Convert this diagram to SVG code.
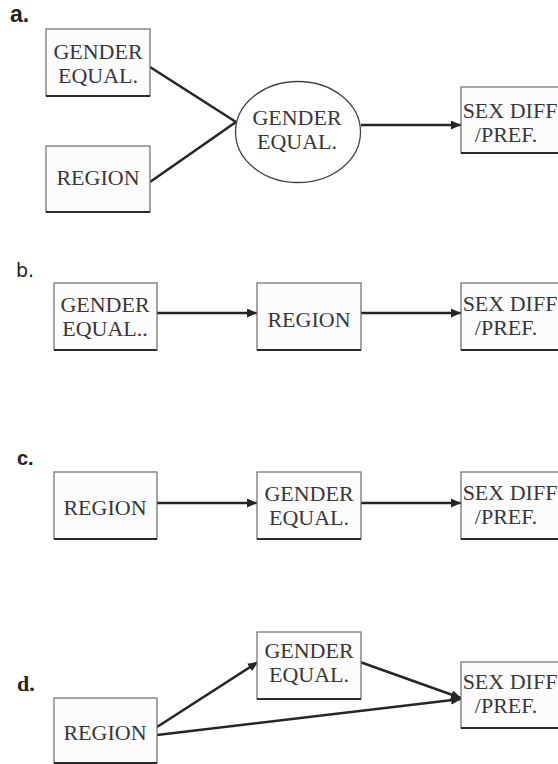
<svg xmlns="http://www.w3.org/2000/svg" width="558" height="764" viewBox="0 0 558 764">
<style>
.box{fill:#fcfcfc;stroke:#6a6a6a;stroke-width:1.2}
.shadow{stroke:#2a2a2a;stroke-width:2;fill:none}
.t{font-family:'Liberation Serif','DejaVu Serif',serif;font-size:22px;fill:#383838;text-anchor:middle}
.conn{stroke:#262626;stroke-width:2.6;fill:none}
.arr{marker-end:url(#ah)}
</style>
<defs>
<marker id="ah" markerUnits="userSpaceOnUse" markerWidth="10" markerHeight="9" refX="10" refY="4.5" orient="auto">
<path d="M0,0 L10,4.5 L0,9 z" fill="#262626"/>
</marker>
</defs>
<rect width="558" height="764" fill="#fff"/>

<text x="10" y="22" font-family="'Liberation Sans','DejaVu Sans',sans-serif" font-weight="bold" font-size="23" fill="#222">a.</text>
<text x="16" y="277" font-family="'DejaVu Sans',sans-serif" font-size="19" fill="#222">b.</text>
<text x="17" y="465" font-family="'Liberation Sans','DejaVu Sans',sans-serif" font-weight="bold" font-size="20" fill="#222">c.</text>
<text x="17" y="691" font-family="'Liberation Serif','DejaVu Serif',serif" font-weight="bold" font-size="22" fill="#222">d.</text>

<g id="connectors">
<line class="conn" x1="150" y1="67" x2="236" y2="122"/>
<line class="conn" x1="150" y1="182" x2="236" y2="122"/>
<line class="conn arr" x1="361" y1="125" x2="461" y2="125"/>
<line class="conn arr" x1="157" y1="313" x2="257" y2="313"/>
<line class="conn arr" x1="361" y1="313" x2="461" y2="313"/>
<line class="conn arr" x1="157" y1="503" x2="257" y2="503"/>
<line class="conn arr" x1="361" y1="503" x2="461" y2="503"/>
<line class="conn arr" x1="157" y1="727" x2="258" y2="662"/>
<line class="conn arr" x1="360" y1="662" x2="461" y2="698"/>
<line class="conn arr" x1="157" y1="735" x2="461" y2="699"/>
</g>

<g id="a-gender">
<rect class="box" x="46" y="29" width="104" height="67"/><line class="shadow" x1="46" y1="96" x2="150" y2="96"/>
<text class="t" x="98" y="59">GENDER</text><text class="t" x="98" y="83">EQUAL.</text>
</g>
<g id="a-region">
<rect class="box" x="46" y="146" width="104" height="66"/><line class="shadow" x1="46" y1="212" x2="150" y2="212"/>
<text class="t" x="98" y="185">REGION</text>
</g>
<g id="a-latent">
<ellipse cx="298" cy="132" rx="62.5" ry="50.5" fill="#fff" stroke="#444" stroke-width="1.3"/>
<text class="t" x="297" y="125" fill="#555">GENDER</text><text class="t" x="297" y="149" fill="#555">EQUAL.</text>
</g>
<g id="a-sex">
<rect class="box" x="461" y="87" width="104" height="66"/><line class="shadow" x1="461" y1="153" x2="565" y2="153"/>
<text class="t" x="510" y="118">SEX DIFF</text><text class="t" x="506" y="142">/PREF.</text>
</g>

<g id="b-gender">
<rect class="box" x="54" y="283" width="103" height="67"/><line class="shadow" x1="54" y1="350" x2="157" y2="350"/>
<text class="t" x="105" y="312">GENDER</text><text class="t" x="105" y="336">EQUAL..</text>
</g>
<g id="b-region">
<rect class="box" x="257" y="283" width="104" height="67"/><line class="shadow" x1="257" y1="350" x2="361" y2="350"/>
<text class="t" x="309" y="327">REGION</text>
</g>
<g id="b-sex">
<rect class="box" x="461" y="283" width="104" height="67"/><line class="shadow" x1="461" y1="350" x2="565" y2="350"/>
<text class="t" x="510" y="311">SEX DIFF</text><text class="t" x="506" y="335">/PREF.</text>
</g>

<g id="c-region">
<rect class="box" x="54" y="472" width="103" height="67"/><line class="shadow" x1="54" y1="539" x2="157" y2="539"/>
<text class="t" x="105" y="515">REGION</text>
</g>
<g id="c-gender">
<rect class="box" x="257" y="472" width="104" height="67"/><line class="shadow" x1="257" y1="539" x2="361" y2="539"/>
<text class="t" x="309" y="501">GENDER</text><text class="t" x="309" y="525">EQUAL.</text>
</g>
<g id="c-sex">
<rect class="box" x="461" y="472" width="104" height="67"/><line class="shadow" x1="461" y1="539" x2="565" y2="539"/>
<text class="t" x="510" y="500">SEX DIFF</text><text class="t" x="506" y="524">/PREF.</text>
</g>

<g id="d-gender">
<rect class="box" x="257" y="632" width="104" height="67"/><line class="shadow" x1="257" y1="699" x2="361" y2="699"/>
<text class="t" x="309" y="658">GENDER</text><text class="t" x="309" y="682">EQUAL.</text>
</g>
<g id="d-region">
<rect class="box" x="54" y="698" width="103" height="65"/><line class="shadow" x1="54" y1="763" x2="157" y2="763"/>
<text class="t" x="105" y="740">REGION</text>
</g>
<g id="d-sex">
<rect class="box" x="461" y="662" width="104" height="66"/><line class="shadow" x1="461" y1="728" x2="565" y2="728"/>
<text class="t" x="510" y="689">SEX DIFF</text><text class="t" x="506" y="713">/PREF.</text>
</g>
</svg>
